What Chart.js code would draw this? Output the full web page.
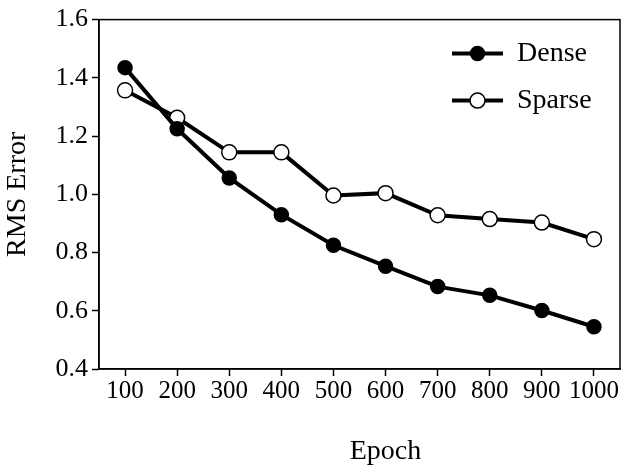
<!DOCTYPE html>
<html>
<head>
<meta charset="utf-8">
<script src="https://cdn.jsdelivr.net/npm/chart.js@4.4.0/dist/chart.umd.min.js"></script>
<style>
  html, body { margin: 0; padding: 0; background: #fff; }
  #wrap { width: 629px; height: 473px; }
</style>
</head>
<body>
<div id="wrap"><canvas id="chart" width="629" height="473"></canvas></div>
<script>
const epochs = ['100', '200', '300', '400', '500', '600', '700', '800', '900', '1000'];
const dense = [1.435, 1.225, 1.056, 0.930, 0.825, 0.753, 0.683, 0.653, 0.601, 0.545];
const sparse = [1.357, 1.263, 1.144, 1.144, 0.996, 1.004, 0.928, 0.915, 0.903, 0.846];
const seriesNames = ['Dense', 'Sparse'];
const xTitle = 'Epoch';
const yTitle = 'RMS Error';

const serif = "'Liberation Serif', 'Times New Roman', serif";

// box round the plot area, plus the x title (sits right of centre in the original)
const frame = {
  id: 'frame',
  afterDraw(chart) {
    const { ctx, chartArea: a } = chart;
    ctx.save();
    ctx.strokeStyle = '#000';
    ctx.lineWidth = 1.5;
    ctx.strokeRect(a.left, a.top, a.right - a.left, a.bottom - a.top);
    ctx.fillStyle = '#000';
    ctx.font = `28px ${serif}`;
    ctx.textAlign = 'center';
    ctx.textBaseline = 'alphabetic';
    ctx.fillText(xTitle, (a.left + a.right) / 2 + 26, a.bottom + 90);
    ctx.restore();
  }
};

// legend with line + marker, like the original
const lineLegend = {
  id: 'lineLegend',
  afterDraw(chart) {
    const { ctx, chartArea: a } = chart;
    const x0 = a.left + 353, x1 = a.left + 404, tx = a.left + 418;
    chart.data.datasets.forEach((ds, i) => {
      const y = a.top + 34 + i * 47;
      ctx.save();
      ctx.strokeStyle = ds.borderColor;
      ctx.lineWidth = ds.borderWidth;
      ctx.beginPath();
      ctx.moveTo(x0, y);
      ctx.lineTo(x1, y);
      ctx.stroke();
      ctx.beginPath();
      ctx.arc((x0 + x1) / 2, y, ds.pointRadius, 0, Math.PI * 2);
      ctx.fillStyle = ds.pointBackgroundColor;
      ctx.fill();
      ctx.lineWidth = ds.pointBorderWidth;
      ctx.strokeStyle = ds.pointBorderColor;
      ctx.stroke();
      ctx.fillStyle = '#000';
      ctx.font = `28px ${serif}`;
      ctx.textBaseline = 'middle';
      ctx.fillText(ds.label, tx, y);
      ctx.restore();
    });
  }
};

new Chart(document.getElementById('chart'), {
  type: 'line',
  data: {
    labels: epochs,
    datasets: [
      {
        label: seriesNames[0],
        data: dense,
        borderColor: '#000',
        borderWidth: 4,
        pointRadius: 7,
        pointBackgroundColor: '#000',
        pointBorderColor: '#000',
        pointBorderWidth: 1.5,
        tension: 0
      },
      {
        label: seriesNames[1],
        data: sparse,
        borderColor: '#000',
        borderWidth: 4,
        pointRadius: 7.5,
        pointBackgroundColor: '#fff',
        pointBorderColor: '#000',
        pointBorderWidth: 1.5,
        tension: 0
      }
    ]
  },
  options: {
    responsive: false,
    animation: false,
    layout: { padding: { top: 18, right: 8, left: 0, bottom: 0 } },
    plugins: { legend: { display: false }, tooltip: { enabled: false } },
    scales: {
      x: {
        offset: true,
        afterFit: s => { s.height = 104; },
        grid: { display: true, drawOnChartArea: false, tickLength: 7, tickColor: '#000', tickWidth: 1.5 },
        border: { color: '#000', width: 1.5 },
        ticks: { color: '#000', padding: 0, maxRotation: 0, autoSkip: false, font: { family: serif, size: 25, lineHeight: 1.2 } },
        title: { display: false }
      },
      y: {
        min: 0.4,
        max: 1.6,
        afterFit: s => { s.width = 99; },
        grid: { display: true, drawOnChartArea: false, tickLength: 7, tickColor: '#000', tickWidth: 1.5 },
        border: { color: '#000', width: 1.5 },
        ticks: {
          stepSize: 0.2,
          color: '#000',
          padding: 4,
          font: { family: serif, size: 26, lineHeight: 1.2 },
          callback: v => Number(v).toFixed(1)
        },
        title: { display: true, text: yTitle, color: '#000', padding: { top: 1, bottom: 0 }, font: { family: serif, size: 28, lineHeight: 1.2 } }
      }
    }
  },
  plugins: [frame, lineLegend]
});
</script>
</body>
</html>
